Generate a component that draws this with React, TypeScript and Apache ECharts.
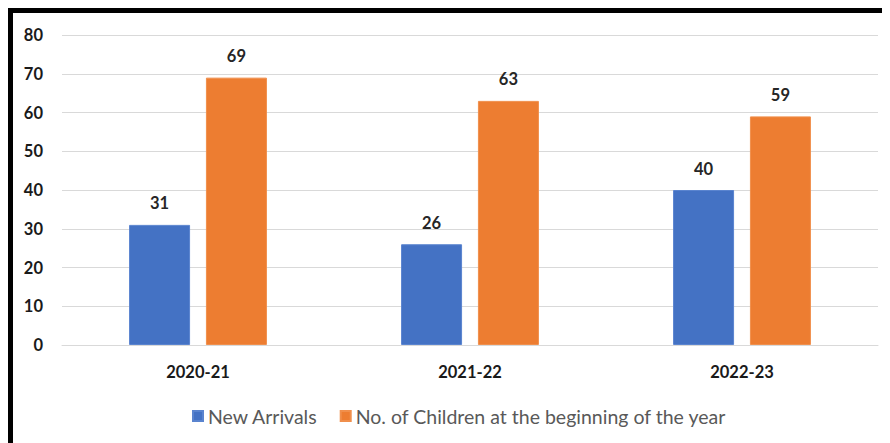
import React, { useEffect, useRef } from "react";
import * as echarts from "echarts";

const categories = ["2020-21", "2021-22", "2022-23"];
const newArrivals = [31, 26, 40];
const childrenAtStart = [69, 63, 59];
const seriesNames = ["New Arrivals", "No. of Children at the beginning of the year"];

export default function App() {
  const ref = useRef<HTMLDivElement>(null);
  useEffect(() => {
    if (!ref.current) return;
    const chart = echarts.init(ref.current, undefined, { renderer: "svg" });
    const font = "Lato, 'Open Sans', sans-serif";
    const labelStyle = {
      show: true,
      position: "top" as const,
      distance: 13,
      fontFamily: font,
      fontWeight: "bold" as const,
      fontSize: 16.5,
      color: "#262626",
    };
    chart.setOption({
      animation: false,
      grid: { left: 49, right: 4, top: 22, bottom: 98, containLabel: false },
      legend: {
        bottom: 12,
        left: 174,
        itemWidth: 10,
        itemHeight: 10,
        itemGap: 22,
        icon: "rect",
        textStyle: { fontFamily: font, fontSize: 19.5, color: "#595959" },
        data: seriesNames,
      },
      xAxis: {
        type: "category",
        data: categories,
        axisLine: { show: true, lineStyle: { color: "#d9d9d9", width: 1 } },
        axisTick: { show: false },
        axisLabel: {
          margin: 18,
          fontFamily: font,
          fontWeight: "bold",
          fontSize: 16.5,
          color: "#1a1a1a",
        },
      },
      yAxis: {
        type: "value",
        min: 0,
        max: 80,
        interval: 10,
        axisLine: { show: false },
        axisTick: { show: false },
        splitLine: { lineStyle: { color: "#d9d9d9", width: 1 } },
        axisLabel: {
          margin: 19,
          fontFamily: font,
          fontWeight: "bold",
          fontSize: 16.5,
          color: "#1a1a1a",
        },
      },
      series: [
        {
          name: seriesNames[0],
          type: "bar",
          data: newArrivals,
          barWidth: 61,
          barGap: "26%",
          itemStyle: { color: "#4472C4", borderColor: "#5a84cf", borderWidth: 1 },
          label: labelStyle,
        },
        {
          name: seriesNames[1],
          type: "bar",
          data: childrenAtStart,
          barWidth: 61,
          barGap: "26%",
          itemStyle: { color: "#ED7D31", borderColor: "#f08f4c", borderWidth: 1 },
          label: labelStyle,
        },
      ],
    });
    return () => chart.dispose();
  }, []);
  return (
    <div style={{ borderTop: "5px solid #000", borderLeft: "5px solid #000" }}>
      <div ref={ref} style={{ width: 869, height: 430 }} />
    </div>
  );
}
